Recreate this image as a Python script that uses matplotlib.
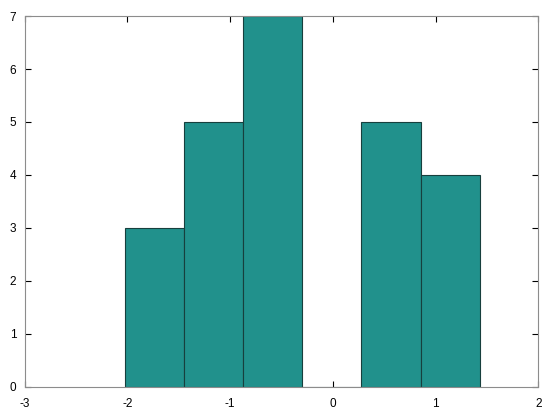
import numpy as np
import matplotlib
matplotlib.use("Agg")
import matplotlib.pyplot as plt

# histogram bins
bin_edges = [-2.021, -1.446, -0.871, -0.296, 0.279, 0.854, 1.429]
counts = [3, 5, 7, 0, 5, 4]
x_ticks = [-3, -2, -1, 0, 1, 2]
y_ticks = [0, 1, 2, 3, 4, 5, 6, 7]

plt.rcParams['font.family'] = ['Liberation Sans', 'DejaVu Sans']
plt.rcParams['axes.unicode_minus'] = False

fig = plt.figure(figsize=(5.6, 4.2), dpi=100)
ax = fig.add_axes([0.0438, 0.0786, 0.9174, 0.8833])

edges = np.array(bin_edges)
ax.bar(edges[:-1], counts, width=np.diff(edges), align='edge',
       color='#21918c', edgecolor='#173f3d', linewidth=0.8, zorder=2)

ax.set_xlim(-3, 2)
ax.set_ylim(0, 7)
ax.set_xticks(x_ticks)
ax.set_yticks(y_ticks)
ax.tick_params(direction='in', length=4, width=0.8, color='black',
               top=True, right=True, labelsize=8.5, pad=8)
ax.tick_params(axis='y', pad=6)
for s in ax.spines.values():
    s.set_color('#8c8c8c')
    s.set_linewidth(0.8)

fig.savefig('out.png', dpi=100)
